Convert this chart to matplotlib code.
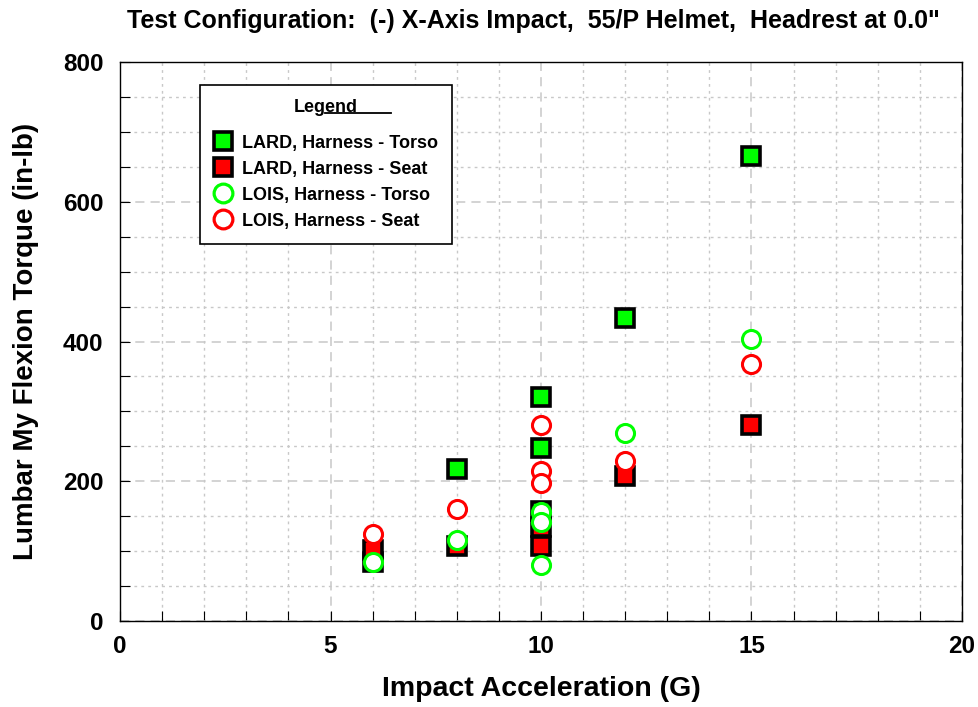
import numpy as np
import matplotlib.pyplot as plt
from matplotlib.lines import Line2D

# data
lard_torso_x = [6, 8, 10, 10, 10, 12, 15]
lard_torso_y = [85, 218, 321, 247, 157, 433, 666]
lard_seat_x = [6, 8, 10, 10, 12, 15]
lard_seat_y = [101, 108, 135, 107, 208, 280]
lois_torso_x = [6, 8, 10, 10, 10, 12, 15]
lois_torso_y = [85, 116, 156, 142, 80, 269, 404]
lois_seat_x = [6, 8, 10, 10, 10, 12, 15]
lois_seat_y = [125, 161, 280, 214, 197, 229, 368]

labels = ["LARD, Harness - Torso", "LARD, Harness - Seat",
          "LOIS, Harness - Torso", "LOIS, Harness - Seat"]

plt.rcParams['font.family'] = ['Liberation Sans', 'DejaVu Sans']

fig = plt.figure(figsize=(9.79, 7.07), dpi=100)
ax = fig.add_axes([0.1226, 0.1216, 0.86, 0.7907])

ms = 12.5
mew = 2.6
ax.plot(lard_torso_x, lard_torso_y, 's', ms=ms, mfc='#00ff00', mec='black', mew=mew, zorder=3)
ax.plot(lard_seat_x, lard_seat_y, 's', ms=ms, mfc='#ff0000', mec='black', mew=mew, zorder=3)
ax.plot(lois_torso_x, lois_torso_y, 'o', ms=13, mfc='white', mec='#00ff00', mew=2.2, zorder=4)
ax.plot(lois_seat_x, lois_seat_y, 'o', ms=13, mfc='white', mec='#ff0000', mew=2.2, zorder=4)

ax.set_xlim(0, 20)
ax.set_ylim(0, 800)
ax.set_xticks(np.arange(0, 21, 5))
ax.set_yticks(np.arange(0, 801, 200))
ax.set_xticks(np.arange(0, 21, 1), minor=True)
ax.set_yticks(np.arange(0, 801, 50), minor=True)
ax.grid(which='major', color='#c8c8c8', linestyle=(0, (6, 4)), linewidth=1.1)
ax.grid(which='minor', color='#c8c8c8', linestyle=(0, (2, 3)), linewidth=1.0)
ax.set_axisbelow(True)
ax.tick_params(which='both', direction='in', length=7, width=0.8, labelsize=17.5)
ax.tick_params(axis='x', pad=10)
ax.tick_params(axis='y', pad=12)
for lab in ax.get_xticklabels() + ax.get_yticklabels():
    lab.set_fontweight('bold')
for sp in ax.spines.values():
    sp.set_linewidth(1.0)

ax.set_xlabel("Impact Acceleration (G)", fontsize=20.5, fontweight='bold')
ax.set_ylabel("Lumbar My Flexion Torque (in-lb)", fontsize=20, fontweight='bold')
ax.xaxis.set_label_coords(0.5, -0.098)
ax.yaxis.set_label_coords(-0.096, 0.5)
fig.text(0.545, 0.970, 'Test Configuration:  (-) X-Axis Impact,  55/P Helmet,  Headrest at 0.0"',
         ha='center', va='center', fontsize=18, fontweight='bold')

# legend box
handles = [
    Line2D([], [], ls='none', marker='s', ms=13, mfc='#00ff00', mec='black', mew=2.6),
    Line2D([], [], ls='none', marker='s', ms=13, mfc='#ff0000', mec='black', mew=2.6),
    Line2D([], [], ls='none', marker='o', ms=13.5, mfc='white', mec='#00ff00', mew=2.3),
    Line2D([], [], ls='none', marker='o', ms=13.5, mfc='white', mec='#ff0000', mew=2.3),
]
leg = ax.legend(handles, labels, loc='upper left', bbox_to_anchor=(80 / 842, 1 - 23 / 559),
                title="Legend", fancybox=False, edgecolor='black', framealpha=1,
                prop={'weight': 'bold', 'size': 13}, handletextpad=0.5,
                labelspacing=0.5, borderpad=0.8, handlelength=1.0, borderaxespad=0)
leg.get_title().set_fontweight('bold')
leg.get_title().set_fontsize(13)
leg._legend_box.sep = 13
leg.get_frame().set_linewidth(1.2)
# underline under "Legend"
fig.add_artist(Line2D([325 / 979, 391 / 979], [1 - 113 / 707, 1 - 113 / 707],
                      color='black', lw=1.3))

fig.savefig("out.png", dpi=100)
